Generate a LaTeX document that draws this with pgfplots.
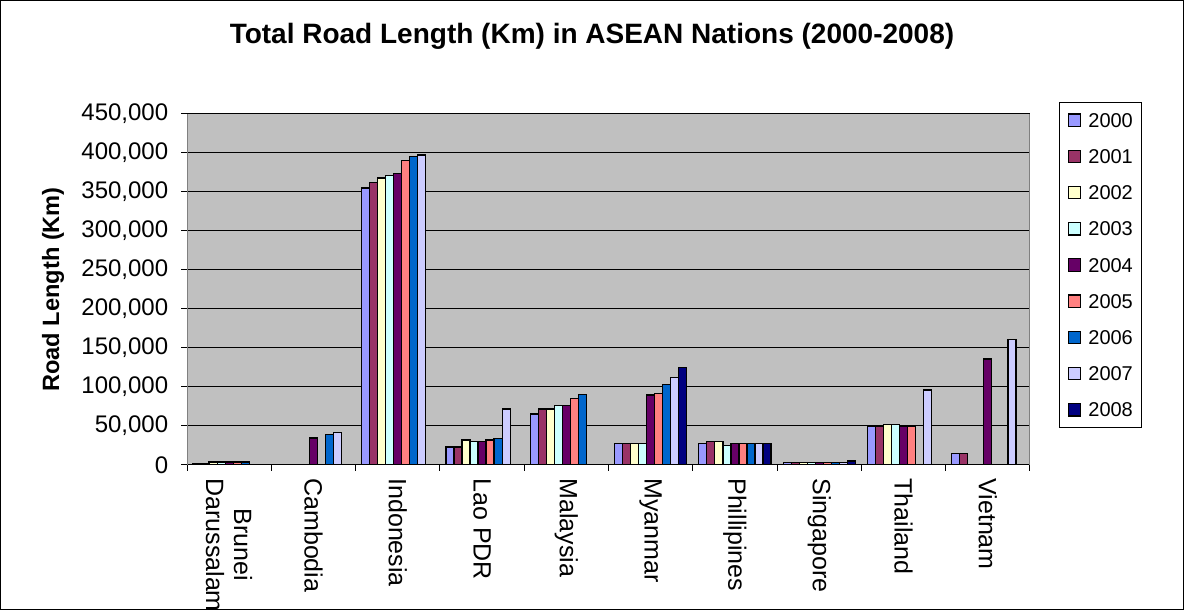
\documentclass[border=0pt]{standalone}
\usepackage{pgfplots}
\pgfplotsset{compat=1.18}
\usepackage{fontspec}
\setmainfont{Liberation Sans}

\definecolor{plotgray}{HTML}{C0C0C0}
\definecolor{c2000}{HTML}{9999FF}
\definecolor{c2001}{HTML}{993366}
\definecolor{c2002}{HTML}{FFFFCC}
\definecolor{c2003}{HTML}{CCFFFF}
\definecolor{c2004}{HTML}{660066}
\definecolor{c2005}{HTML}{FF8080}
\definecolor{c2006}{HTML}{0066CC}
\definecolor{c2007}{HTML}{CCCCFF}
\definecolor{c2008}{HTML}{000080}

\begin{document}
\begin{tikzpicture}
\useasboundingbox (0,0) rectangle (592pt,305pt);
\draw[line width=0.5pt] (0.25pt,0.25pt) rectangle (591.75pt,304.75pt);
\node[font=\bfseries\fontsize{14}{16}\selectfont] at (296pt,287pt)
  {Total Road Length (Km) in ASEAN Nations (2000-2008)};
\begin{axis}[
    at={(93.5pt,72.5pt)}, anchor=south west,
    scale only axis, width=421.5pt, height=175.5pt,
    ybar=0pt, bar width=4.015pt,
    xmin=-0.5, xmax=9.5, ymin=0, ymax=450000,
    axis background/.style={fill=plotgray},
    separate axis lines,
    x axis line style={draw=black, line width=0.5pt},
    y axis line style={draw=gray, line width=0.5pt},
    tick pos=left, tick align=outside,
    major tick length=0pt, minor tick length=3pt,
    tick style={black, line width=0.5pt},
    xtick={0,...,9},
    minor xtick={-0.5,0.5,...,9.5},
    xticklabels={{Brunei\\Darussalam},Cambodia,Indonesia,Lao PDR,Malaysia,Myanmar,Phillipines,Singapore,Thailand,Vietnam},
    xticklabel style={rotate=-90, anchor=west, align=center, inner xsep=6.5pt, inner ysep=0pt,
        font=\fontsize{12.5}{14}\selectfont},
    ytick={0,50000,...,450000},
    minor ytick={0,50000,...,450000},
    scaled y ticks=false,
    yticklabel style={inner xsep=0pt, xshift=-9.2pt, font=\fontsize{12}{14}\selectfont},
    ymajorgrids, major grid style={black, line width=0.5pt},
    ylabel={Road Length (Km)},
    ylabel style={at={(axis description cs:-0.159,0.5)}, anchor=center,
        font=\bfseries\fontsize{11.8}{13}\selectfont},
    legend image code/.code={
        \draw[#1] (0pt,-3.075pt) rectangle (6.15pt,3.075pt);
        \path (9.65pt,0pt);},
    legend style={at={(1.0344,1.0342)}, anchor=north west, draw=black, line width=0.5pt,
        font=\fontsize{10}{12}\selectfont, inner xsep=4.2pt, inner ysep=5.25pt,
        row sep=10.9pt, cells={anchor=west},
        nodes={inner sep=0pt, text height=7.2pt, text depth=0pt}},
    /pgf/number format/.cd, fixed, 1000 sep={,}, assume math mode=true
]
\addplot[fill=c2000, draw=black, line width=0.6pt] coordinates {
    (0,2000) (2,355000) (3,23100) (4,65400) (5,27400) (6,27400) (7,3100) (8,50000) (9,14500)};
\addlegendentry{2000}
\addplot[fill=c2001, draw=black, line width=0.6pt] coordinates {
    (0,2000) (2,362000) (3,23100) (4,71800) (5,27400) (6,29900) (7,3100) (8,50000) (9,14500)};
\addlegendentry{2001}
\addplot[fill=c2002, draw=black, line width=0.6pt] coordinates {
    (0,3800) (2,368000) (3,32100) (4,71800) (5,27400) (6,29900) (7,3100) (8,52200)};
\addlegendentry{2002}
\addplot[fill=c2003, draw=black, line width=0.6pt] coordinates {
    (0,3800) (2,370800) (3,30300) (4,76500) (5,27400) (6,25200) (7,3100) (8,52200)};
\addlegendentry{2003}
\addplot[fill=c2004, draw=black, line width=0.6pt] coordinates {
    (0,3800) (1,34600) (2,373400) (3,30300) (4,76500) (5,89700) (6,27400) (7,3100) (8,50000) (9,135900)};
\addlegendentry{2004}
\addplot[fill=c2005, draw=black, line width=0.6pt] coordinates {
    (0,3800) (2,390500) (3,32100) (4,85000) (5,91900) (6,27400) (7,3100) (8,50000)};
\addlegendentry{2005}
\addplot[fill=c2006, draw=black, line width=0.6pt] coordinates {
    (0,3800) (1,39400) (2,395200) (3,34200) (4,90200) (5,103000) (6,27400) (7,3100)};
\addlegendentry{2006}
\addplot[fill=c2007, draw=black, line width=0.6pt] coordinates {
    (1,41400) (2,397400) (3,71800) (5,111900) (6,27400) (7,3100) (8,96200) (9,160600)};
\addlegendentry{2007}
\addplot[fill=c2008, draw=black, line width=0.6pt] coordinates {
    (5,125300) (6,27400) (7,5000)};
\addlegendentry{2008}
\end{axis}
\end{tikzpicture}
\end{document}
